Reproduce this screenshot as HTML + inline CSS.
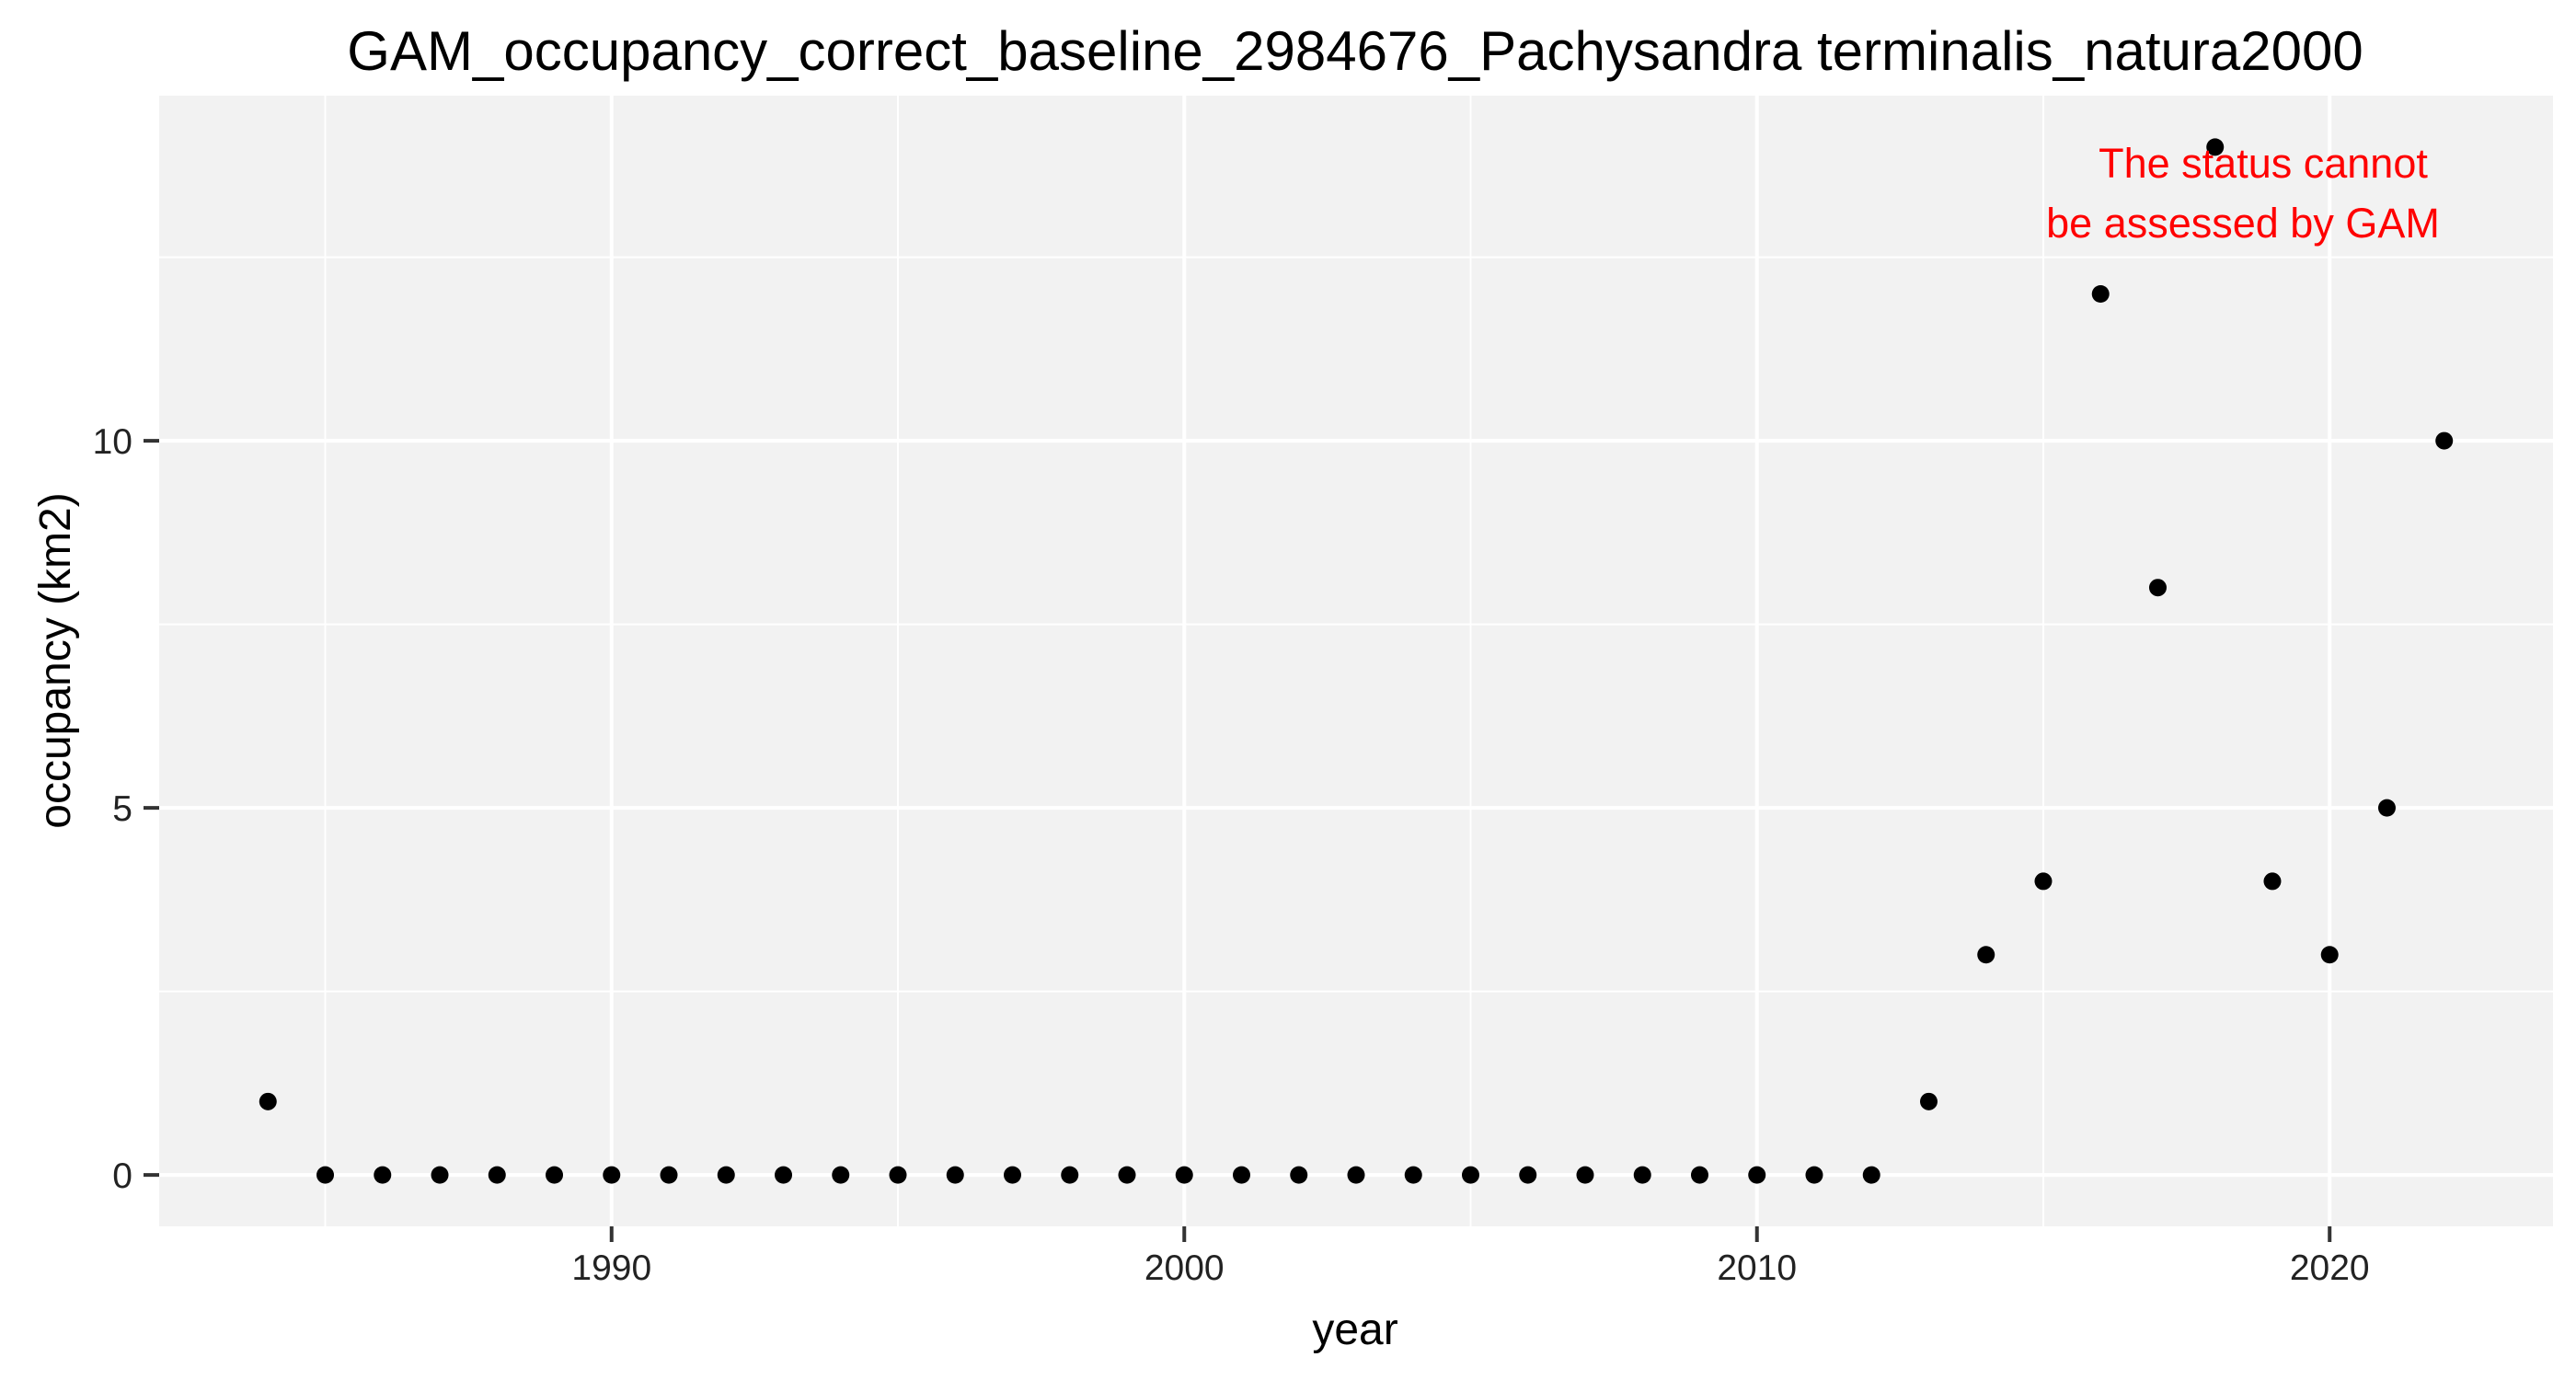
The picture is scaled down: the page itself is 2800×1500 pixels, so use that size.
<!DOCTYPE html>
<html><head><meta charset="utf-8"><style>
html,body{margin:0;padding:0;background:#fff;}
svg{display:block;font-family:"Liberation Sans",Arial,sans-serif;}
</style></head><body>
<svg id="chart" width="2800" height="1500" viewBox="0 0 2800 1500">
<rect x="0" y="0" width="2800" height="1500" fill="#fff"/>
<text x="1473" y="76" font-size="60" text-anchor="middle" fill="#000">GAM_occupancy_correct_baseline_2984676_Pachysandra terminalis_natura2000</text>
<rect x="173" y="104" width="2602" height="1229" fill="#F2F2F2"/>
<g id="grid"></g>
<g id="axes"></g>
<g id="points"></g>
<text x="2460" y="193" font-size="45" fill="#FF0000" text-anchor="middle">The status cannot</text>
<text x="2438" y="258" font-size="45" fill="#FF0000" text-anchor="middle">be assessed by GAM</text>
<text x="1473" y="1461" font-size="48" text-anchor="middle" fill="#000">year</text>
<text transform="translate(76,718) rotate(-90)" font-size="48" text-anchor="middle" fill="#000">occupancy (km2)</text>
</svg>
<script>
const years = [1984,1985,1986,1987,1988,1989,1990,1991,1992,1993,1994,1995,1996,1997,1998,1999,2000,2001,2002,2003,2004,2005,2006,2007,2008,2009,2010,2011,2012,2013,2014,2015,2016,2017,2018,2019,2020,2021,2022];
const occupancy = [1,0,0,0,0,0,0,0,0,0,0,0,0,0,0,0,0,0,0,0,0,0,0,0,0,0,0,0,0,1,3,4,12,8,14,4,3,5,10];
const xTicks = [1990,2000,2010,2020];
const xMinor = [1985,1995,2005,2015];
const yTicks = [0,5,10];
const yMinor = [2.5,7.5,12.5];

const NS = "http://www.w3.org/2000/svg";
const PL = 173, PR = 2775, PT = 104, PB = 1333;
const x0 = 1982.1, x1 = 2023.9, y0 = -0.7, y1 = 14.7;
function xs(v){ return PL + (v - x0) / (x1 - x0) * (PR - PL); }
function ys(v){ return PB - (v - y0) / (y1 - y0) * (PB - PT); }
function mk(tag, attrs, parent){ const e = document.createElementNS(NS, tag); for (const k in attrs) e.setAttribute(k, attrs[k]); parent.appendChild(e); return e; }

const grid = document.getElementById('grid');
const axes = document.getElementById('axes');
const pts = document.getElementById('points');

yMinor.forEach(v => {
  const l = mk('line', {x1: PL, x2: PR, y1: ys(v), y2: ys(v), stroke: '#fff', 'stroke-width': 2}, grid);
  
  
});
xMinor.forEach(v => {
  const l = mk('line', {x1: xs(v), x2: xs(v), y1: PT, y2: PB, stroke: '#fff', 'stroke-width': 2}, grid);
  
  
});
yTicks.forEach(v => {
  const l = mk('line', {x1: PL, x2: PR, y1: ys(v), y2: ys(v), stroke: '#fff', 'stroke-width': 4}, grid);
  
  
  const t = mk('line', {x1: PL - 17, x2: PL, y1: ys(v), y2: ys(v), stroke: '#333', 'stroke-width': 4}, axes);
  
  
  const tx = mk('text', {x: PL - 29, y: ys(v) + 14, 'font-size': 39, 'text-anchor': 'end', fill: '#222'}, axes);
  tx.textContent = String(v);
  
  
});
xTicks.forEach(v => {
  const l = mk('line', {x1: xs(v), x2: xs(v), y1: PT, y2: PB, stroke: '#fff', 'stroke-width': 4}, grid);
  
  
  const t = mk('line', {x1: xs(v), x2: xs(v), y1: PB, y2: PB + 17, stroke: '#333', 'stroke-width': 4}, axes);
  
  
  const tx = mk('text', {x: xs(v), y: 1391, 'font-size': 39, 'text-anchor': 'middle', fill: '#222'}, axes);
  tx.textContent = String(v);
  
  
});
years.forEach((yr, i) => {
  const c = mk('circle', {cx: xs(yr), cy: ys(occupancy[i]), r: 9.5, fill: '#000'}, pts);
  
  
});
</script>
</body></html>
